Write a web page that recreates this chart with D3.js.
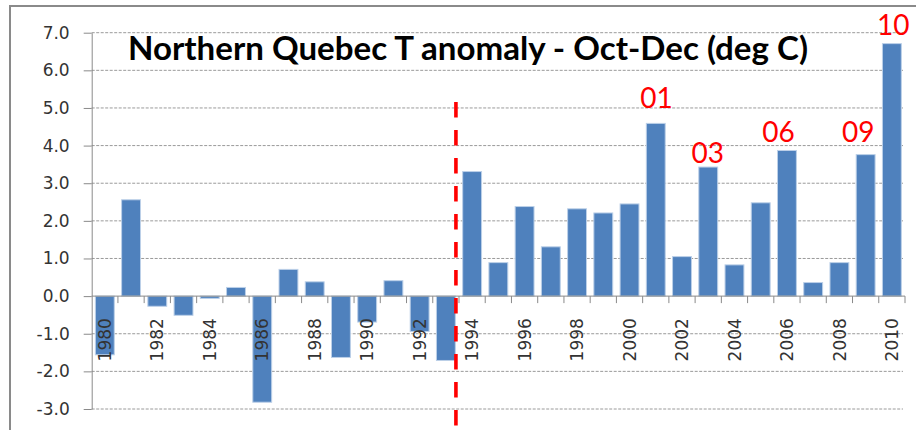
<!DOCTYPE html>
<html>
<head>
<meta charset="utf-8">
<script src="https://cdn.jsdelivr.net/npm/d3@7"></script>
<style>
  html, body { margin: 0; padding: 0; background: #fff; }
  svg { display: block; }
</style>
</head>
<body>
<div id="chart"></div>
<script>
// ---- data ----
const years = d3.range(1980, 2011).map(String);
const anomalies = [
  -1.56, 2.56, -0.27, -0.51, -0.06, 0.23, -2.82, 0.71, 0.38, -1.63,
  -0.69, 0.41, -0.94, -1.71, 3.31, 0.89, 2.38, 1.31, 2.32, 2.21,
  2.45, 4.59, 1.05, 3.43, 0.83, 2.48, 3.87, 0.36, 0.89, 3.76, 6.71
];
const yTicks = [-3, -2, -1, 0, 1, 2, 3, 4, 5, 6, 7];
const xTickLabels = years.filter((d, i) => i % 2 === 0);
const titleText = "Northern Quebec T anomaly - Oct-Dec (deg C)";
// highlighted years: label text, year, value level of label baseline, category shift
const noteTexts = ["01", "03", "06", "09", "10"];
const noteYears = ["2001", "2003", "2006", "2009", "2010"];
const noteLevels = [4.99, 3.53, 4.09, 4.09, 6.93];
const noteShift = [0.03, -0.02, -0.32, -0.28, 0.05];
const splitAfter = "1993";
const splitTop = 5.16;

// ---- layout ----
const W = 916, H = 430;
const svg = d3.select("#chart").append("svg")
  .attr("width", W).attr("height", H);

svg.append("rect").attr("width", W).attr("height", H).attr("fill", "#fff");

// outer frame
svg.append("rect")
  .attr("x", 10).attr("y", 6)
  .attr("width", W + 20).attr("height", H + 20)
  .attr("fill", "none").attr("stroke", "#8a8a8a").attr("stroke-width", 2);

const x = d3.scaleBand().domain(years)
  .range([91.7, 905]).paddingInner(0.28).paddingOuter(0.14);
const y = d3.scaleLinear().domain([-3, 7]).range([409, 32.7]);
const step = x.step();
const gapHalf = (step - x.bandwidth()) / 2;

// gridlines
svg.append("g").selectAll("line").data(yTicks.filter(d => d !== 0)).join("line")
  .attr("x1", 91.7).attr("x2", 903)
  .attr("y1", d => y(d)).attr("y2", d => y(d))
  .attr("stroke", "#9a9a9a").attr("stroke-width", 1)
  .attr("stroke-dasharray", "3,1.5");

// bars
svg.append("g").selectAll("rect").data(years).join("rect")
  .attr("x", d => x(d))
  .attr("width", x.bandwidth())
  .attr("y", (d, i) => y(Math.max(0, anomalies[i])))
  .attr("height", (d, i) => Math.abs(y(anomalies[i]) - y(0)))
  .attr("fill", "#4F81BD")
  .attr("stroke", "#bcd0e8").attr("stroke-width", 1);

// y axis
const yAxis = svg.append("g")
  .attr("transform", "translate(91.7,0)")
  .call(d3.axisLeft(y).tickValues(yTicks).tickFormat(d3.format(".1f"))
    .tickSize(8).tickPadding(14).tickSizeOuter(0));
yAxis.select(".domain").attr("stroke", "#8a8a8a");
yAxis.selectAll(".tick line").attr("stroke", "#8a8a8a");
yAxis.selectAll(".tick text")
  .attr("font-family", "DejaVu Sans").attr("font-size", 17).attr("fill", "#333");
yAxis.selectAll(".tick text").text(d => d3.format(".1f")(d).replace("−", "-"));

// x axis (at zero)
const xg = svg.append("g");
xg.append("line")
  .attr("x1", 91.7).attr("x2", 905)
  .attr("y1", y(0)).attr("y2", y(0))
  .attr("stroke", "#8a8a8a").attr("stroke-width", 1);
const boundaries = years.map(d => x(d) - gapHalf).concat([x(years[years.length - 1]) + x.bandwidth() + gapHalf]);
xg.selectAll("line.tk").data(boundaries.slice(1)).join("line")
  .attr("class", "tk")
  .attr("x1", d => d).attr("x2", d => d)
  .attr("y1", y(0)).attr("y2", y(0) + 7)
  .attr("stroke", "#8a8a8a");
xg.selectAll("text").data(xTickLabels).join("text")
  .attr("transform", d => `translate(${x(d) + x.bandwidth() / 2},${y(0) + 22}) rotate(-90)`)
  .attr("text-anchor", "end")
  .attr("dy", "0.36em")
  .attr("font-family", "DejaVu Sans").attr("font-size", 17).attr("fill", "#333")
  .text(d => d);

// red dashed split line
const sx = x(splitAfter) + x.bandwidth() + 0.6;
svg.append("line")
  .attr("x1", sx).attr("x2", sx)
  .attr("y1", y(splitTop)).attr("y2", H)
  .attr("stroke", "#ff0000").attr("stroke-width", 3.6)
  .attr("stroke-dasharray", "15.5,12.5");

// title
svg.append("text")
  .attr("x", 468).attr("y", 60)
  .attr("text-anchor", "middle")
  .attr("font-family", "Lato").attr("font-weight", "bold").attr("font-size", 33)
  .attr("textLength", 680).attr("lengthAdjust", "spacingAndGlyphs")
  .attr("fill", "#000")
  .text(titleText);

// red year annotations
svg.append("g").selectAll("text").data(noteTexts).join("text")
  .attr("x", (d, i) => x(noteYears[i]) + x.bandwidth() / 2 + noteShift[i] * step)
  .attr("y", (d, i) => y(noteLevels[i]))
  .attr("text-anchor", "middle")
  .attr("font-family", "Lato").attr("font-size", 28)
  .attr("fill", "#ff0000")
  .text(d => d);
</script>
</body>
</html>
